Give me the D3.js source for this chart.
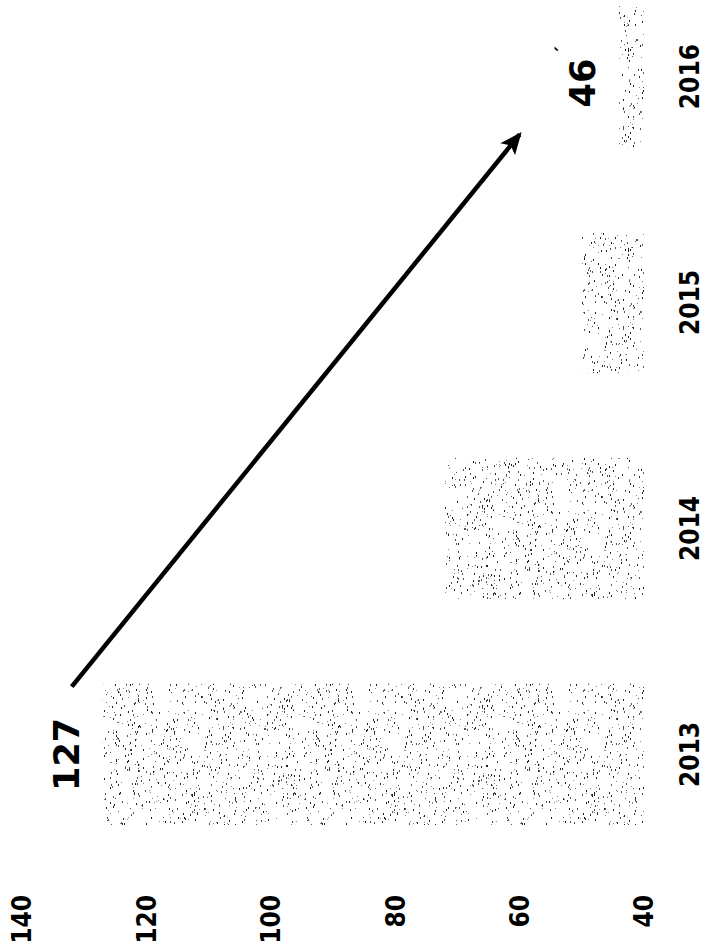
<!DOCTYPE html>
<html lang="en">
<head>
<meta charset="utf-8">
<title>2013-2016</title>
<script src="https://cdnjs.cloudflare.com/ajax/libs/d3/7.8.5/d3.min.js"></script>
<style>
body { margin: 0; background: #fff; }
text { fill: #000; }
.tick-label, .cat-label {
  font-family: "DejaVu Sans Condensed", "DejaVu Sans", sans-serif;
  font-weight: bold;
  font-size: 26px;
}
.value-label {
  font-family: "DejaVu Sans", sans-serif;
  font-weight: bold;
  font-size: 35px;
}
</style>
</head>
<body>
<div id="chart"></div>
<script>

// data
const years = ["2013", "2014", "2015", "2016"];
const values = [127, 72, 50, 44];
const ticks = [40, 60, 80, 100, 120, 140];
// only two bars carry a printed number
const valueLabels = [
  { year: "2013", text: "127", at: 127 },
  { year: "2016", text: "46", at: 44 }
];
// trend arrow: [year, fraction across band, value]
const arrowFrom = ["2013", 0.98, 132];
const arrowTo = ["2016", 0.09, 60];

const W = 709, H = 951;

const svg = d3.select("#chart")
  .append("svg")
  .attr("width", W)
  .attr("height", H);

// the whole chart is drawn turned a quarter to the left
// local x runs up the page, local y runs across it
const g = svg.append("g")
  .attr("transform", "translate(0," + H + ") rotate(-90)");

const x = d3.scaleBand()
  .domain(years)
  .range([126, 945])
  .paddingInner(0.375)
  .paddingOuter(0);

const y = d3.scaleLinear()
  .domain([40, 140])
  .range([644, 22]);

// stipple texture for the bars (style only, not data)
const defs = svg.append("defs");
const tile = 200;
const pat = defs.append("pattern")
  .attr("id", "stipple")
  .attr("patternUnits", "userSpaceOnUse")
  .attr("width", tile)
  .attr("height", tile);

let seed = 987654321;
function rnd() { // mulberry32
  seed |= 0; seed = seed + 0x6D2B79F5 | 0;
  let t = Math.imul(seed ^ seed >>> 15, 1 | seed);
  t = t + Math.imul(t ^ t >>> 7, 61 | t) ^ t;
  return ((t ^ t >>> 14) >>> 0) / 4294967296;
}
const dots = d3.range(1250).map(() => [Math.floor(rnd() * tile), Math.floor(rnd() * tile), rnd()]);
pat.selectAll("rect")
  .data(dots)
  .enter().append("rect")
    .attr("x", d => d[0])
    .attr("y", d => d[1])
    .attr("width", d => d[2] < 0.6 ? 2 : 1)
    .attr("height", 1)
    .attr("fill", d => d[2] < 0.3 ? "#222" : (d[2] < 0.7 ? "#555" : "#888"))
    .attr("shape-rendering", "crispEdges");

const marker = defs.append("marker")
  .attr("id", "head")
  .attr("viewBox", "0 -6 14 12")
  .attr("refX", 12)
  .attr("refY", 0)
  .attr("markerWidth", 5)
  .attr("markerHeight", 4.2)
  .attr("markerUnits", "strokeWidth")
  .attr("orient", "auto");
marker.append("path")
  .attr("d", "M0,-6L14,0L0,6L3,0Z")
  .attr("fill", "#000");

// bars
g.append("g")
  .selectAll("rect")
  .data(years)
  .enter().append("rect")
    .attr("x", d => x(d))
    .attr("y", (d, i) => y(values[i]))
    .attr("width", x.bandwidth())
    .attr("height", (d, i) => y(40) - y(values[i]))
    .attr("fill", "url(#stipple)");

// value axis labels, no line, no ticks
g.append("g")
  .selectAll("text")
  .data(ticks)
  .enter().append("text")
    .attr("class", "tick-label")
    .attr("x", 56)
    .attr("y", d => y(d))
    .attr("dy", "0.36em")
    .attr("text-anchor", "end")
    .text(d => d);

// category labels
g.append("g")
  .selectAll("text")
  .data(years)
  .enter().append("text")
    .attr("class", "cat-label")
    .attr("x", d => x(d) + x.bandwidth() / 2)
    .attr("y", 699)
    .attr("text-anchor", "middle")
    .text(d => d);

// printed numbers above the first and last bar
const vl = g.append("g")
  .selectAll("text")
  .data(valueLabels)
  .enter().append("text")
    .attr("class", "value-label")
    .attr("x", d => x(d.year) + x.bandwidth() / 2)
    .attr("y", d => y(d.at) - 24)
    .attr("text-anchor", "middle")
    .text(d => d.text);

vl.filter(d => d.year === "2016")
  .append("tspan")
    .attr("font-size", "18px")
    .attr("dx", 4)
    .attr("dy", -26)
    .text("\u00b4");

// trend arrow
g.append("line")
  .attr("x1", x(arrowFrom[0]) + arrowFrom[1] * x.bandwidth())
  .attr("y1", y(arrowFrom[2]))
  .attr("x2", x(arrowTo[0]) + arrowTo[1] * x.bandwidth())
  .attr("y2", y(arrowTo[2]))
  .attr("stroke", "#000")
  .attr("stroke-width", 4.5)
  .attr("marker-end", "url(#head)");

</script>
</body>
</html>
